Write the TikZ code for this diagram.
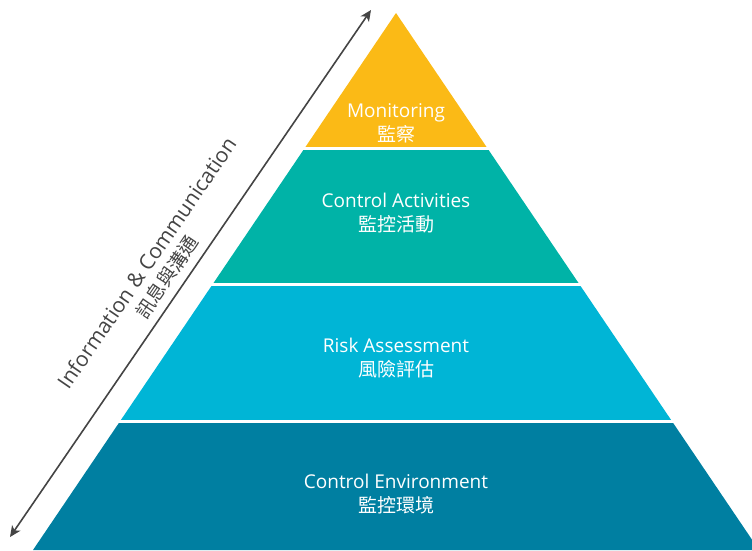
\documentclass[tikz,border=0pt]{standalone}
\usepackage{fontspec}
\setmainfont{Open Sans}
\newfontfamily\cjk{Noto Sans CJK TC}
\usetikzlibrary{arrows.meta}

\definecolor{monitorcol}{RGB}{251,186,22}
\definecolor{activitycol}{RGB}{0,179,167}
\definecolor{riskcol}{RGB}{0,181,214}
\definecolor{environcol}{RGB}{0,127,161}
\definecolor{arrowgray}{RGB}{68,68,68}

\tikzset{
  layer text/.style={text=white, align=center, font=\fontsize{19}{24}\selectfont},
  side text/.style={text=arrowgray, align=center, font=\fontsize{21}{24}\selectfont, rotate=55.6},
  gtip/.tip={Stealth[length=11pt,width=10pt,inset=3pt]},
}

\begin{document}
\begin{tikzpicture}[x=1pt,y=-1pt]
\useasboundingbox (0,0) rectangle (752,550);
\coordinate (apex) at (396,13);
\coordinate (bl) at (33,550);
\coordinate (br) at (759,550);

\begin{scope}
  \clip (apex) -- (bl) -- (br) -- cycle;
  \foreach \ya/\yb/\col in {0/147/monitorcol, 150/283/activitycol, 286/420/riskcol, 423/560/environcol}
    \fill[\col] (0,\ya) rectangle (760,\yb);
\end{scope}

\node[layer text] (mon) at (396,123) {Monitoring\\{\cjk 監察}};
\node[layer text] (act) at (396,213) {Control Activities\\{\cjk 監控活動}};
\node[layer text] (risk) at (396,358) {Risk Assessment\\{\cjk 風險評估}};
\node[layer text] (env) at (396,494) {Control Environment\\{\cjk 監控環境}};

\coordinate (lo) at (10,537);
\coordinate (hi) at (371,10);
\draw[arrowgray, line width=1.6pt, gtip-gtip] (lo) -- (hi);
\node[side text] (info) at (157,270) {Information \& Communication\\{\cjk\fontsize{19}{24}\selectfont 訊息與溝通}};
\end{tikzpicture}
\end{document}
